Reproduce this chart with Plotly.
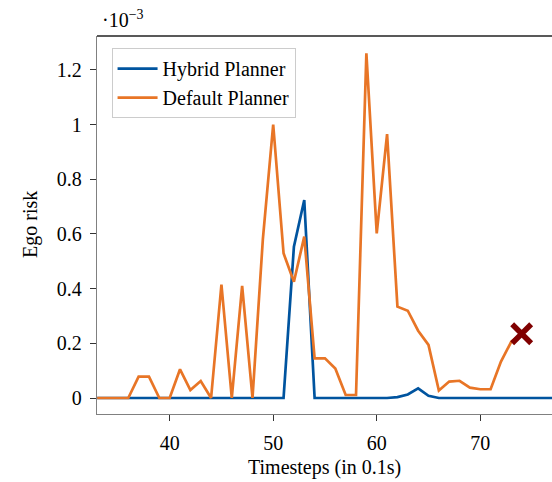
import plotly.graph_objects as go

# Timesteps (in 0.1 s)
t_hybrid = list(range(33, 79))
hybrid_risk = [0, 0, 0, 0, 0, 0, 0, 0, 0, 0,   # 33-42
               0, 0, 0, 0, 0, 0, 0, 0, 0, 0.553,  # 43-52
               0.724, 0, 0, 0, 0, 0, 0, 0, 0, 0.003,  # 53-62
               0.013, 0.035, 0.008, 0, 0, 0, 0, 0, 0, 0,  # 63-72
               0, 0, 0, 0, 0, 0]  # 73-78

t_default = list(range(33, 75))
default_risk = [0, 0, 0, 0, 0.078, 0.078, 0, 0, 0.105, 0.029,  # 33-42
                0.062, 0, 0.415, 0, 0.41, 0, 0.58, 1.0, 0.529, 0.425,  # 43-52
                0.59, 0.145, 0.145, 0.108, 0.011, 0.011, 1.26, 0.602, 0.965, 0.334,  # 53-62
                0.319, 0.246, 0.194, 0.027, 0.06, 0.063, 0.038, 0.032, 0.032, 0.133,  # 63-72
                0.206, 0.235]  # 73-74

collision_t = [74]
collision_risk = [0.235]

x_ticks = [40, 50, 60, 70]
y_ticks = [0, 0.2, 0.4, 0.6, 0.8, 1.0, 1.2]
y_tick_labels = ["0", "0.2", "0.4", "0.6", "0.8", "1", "1.2"]

BLUE = "#00549F"
ORANGE = "#E87526"
FONT = "Liberation Serif"
FS = 20

fig = go.Figure()
fig.add_trace(go.Scatter(x=t_hybrid, y=hybrid_risk, mode="lines", name="Hybrid Planner",
                         line=dict(color=BLUE, width=2.7)))
fig.add_trace(go.Scatter(x=t_default, y=default_risk, mode="lines", name="Default Planner",
                         line=dict(color=ORANGE, width=2.7)))
fig.add_trace(go.Scatter(x=collision_t, y=collision_risk, mode="markers", showlegend=False,
                         marker=dict(symbol="x-thin", size=19,
                                     line=dict(width=5.5, color="#800000"))))

axis_common = dict(showgrid=False, zeroline=False, showline=True, linecolor="#808080",
                   linewidth=1.3, ticks="outside", ticklen=6, tickcolor="#333333",
                   tickfont=dict(family=FONT, size=FS, color="black"))

fig.update_layout(
    width=552, height=482,
    margin=dict(l=97, r=0, t=36, b=68),
    paper_bgcolor="white", plot_bgcolor="white",
    font=dict(family=FONT, size=FS, color="black"),
    xaxis=dict(range=[32.98, 76.93], tickvals=x_ticks, ticklabelstandoff=5, **axis_common),
    yaxis=dict(range=[-0.0585, 1.3236], tickvals=y_ticks, ticktext=y_tick_labels,
               ticklabelstandoff=4, **axis_common),
    legend=dict(x=0.032, y=0.968, xanchor="left", yanchor="top",
                bordercolor="#cccccc", borderwidth=1, bgcolor="white",
                font=dict(family=FONT, size=FS), tracegroupgap=0, itemwidth=40),
    showlegend=True,
)

fig.add_shape(type="line", xref="paper", yref="paper", x0=0, x1=1, y0=1, y1=1,
              line=dict(color="#222222", width=1.5))

fig.add_annotation(text="·10<sup>−3</sup>", xref="paper", yref="paper", x=0, y=1,
                   xanchor="left", yanchor="bottom", xshift=3, yshift=3, showarrow=False,
                   font=dict(family=FONT, size=FS, color="black"))
fig.add_annotation(text="Timesteps (in 0.1s)", xref="paper", yref="paper", x=0.5, y=0,
                   xanchor="center", yanchor="middle", yshift=-53, showarrow=False,
                   font=dict(family=FONT, size=FS, color="black"))
fig.add_annotation(text="Ego risk", xref="paper", yref="paper", x=0, y=0.5, textangle=-90,
                   xanchor="center", yanchor="middle", xshift=-67, showarrow=False,
                   font=dict(family=FONT, size=FS, color="black"))

fig.write_html("out.html", config={"displayModeBar": False},
               post_script="document.body.style.margin='0';document.body.style.overflow='hidden';")
